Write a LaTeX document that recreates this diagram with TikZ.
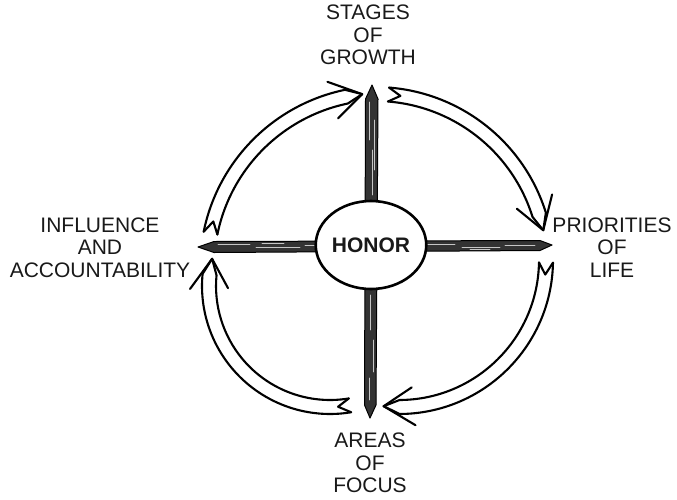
\documentclass[tikz,border=0pt]{standalone}
\usepackage{fontspec}
\setmainfont{Liberation Sans}
\usepackage{tikz}
\usetikzlibrary{shapes.geometric}
\tikzset{
  lbl/.style={align=center, inner sep=0pt, text=black!90, font=\fontsize{21}{22.5}\selectfont},
  hub/.style={ellipse, draw, line width=2.6pt, fill=white, minimum width=94pt, minimum height=88pt, inner sep=0pt, text=black!90, font=\fontsize{21}{24}\selectfont\bfseries},
  rib/.style={line width=2.1pt, line join=round, line cap=round},
  stick/.style={fill=black!80, draw=black, line width=1pt, line join=round},
  grain/.style={gray!45, line width=0.7pt, line cap=round},
}
% hollow curved arrow: centre x, centre y, radius, tail angle, head angle
\newcommand{\flowarrow}[5]{%
  \begin{scope}[shift={(#1,#2)}]
    \pgfmathsetmacro{\dcon}{16/#3*57.3}
    \pgfmathsetmacro{\dbarb}{30/#3*57.3}
    \pgfmathsetmacro{\dnotch}{12/#3*57.3}
    \draw[rib] ({#4}:{#3+7}) arc[start angle=#4, end angle=#5-\dcon, radius=#3+7] -- ({#5}:{#3});
    \draw[rib] ({#4}:{#3-7}) arc[start angle=#4, end angle=#5-\dcon, radius=#3-7] -- ({#5}:{#3});
    \draw[rib] ({#4}:{#3+7}) -- ({#4+\dnotch}:{#3}) -- ({#4}:{#3-7});
    \draw[rib] ({#5-\dbarb}:{#3+19}) -- ({#5}:{#3}) -- ({#5-\dbarb}:{#3-19});
  \end{scope}}

\begin{document}
\begin{tikzpicture}[x=1pt,y=-1pt]
  \useasboundingbox (0,0) rectangle (677,499);
  % --- stick tips ---
  \coordinate (ntip) at (372,85);
  \coordinate (stip) at (370,418);
  \coordinate (wtip) at (198,247);
  \coordinate (etip) at (552,245);
  % --- the two sticks ---
  \draw[stick] (wtip) -- (214,241.5) -- (540,240.5) -- (etip) -- (540,250.5) -- (214,252.5) -- cycle;
  \draw[stick] (ntip) -- (365.5,99) -- (364.5,405) -- (stip) -- (376,405) -- (378,99) -- cycle;
  \foreach \a/\b/\o in {218/250/-2, 256/300/1, 262/284/-3, 305/322/-1, 420/455/-2, 462/500/1, 505/535/-1, 470/490/3}
    \draw[grain] (\a,246+\o) -- (\b,246+\o);
  \foreach \a/\b/\o in {102/140/-2, 150/195/1, 120/170/3, 295/330/-1, 340/372/2, 378/400/-2}
    \draw[grain] (371+\o,\a) -- (371+\o,\b);
  % --- centre ---
  \node[hub] (honor) at (371,245) {HONOR};
  % --- labels ---
  \node[lbl] (growth) at (368,35) {STAGES\\OF\\GROWTH};
  \node[lbl] (life) at (612,247.5) {PRIORITIES\\OF\\LIFE};
  \node[lbl] (focus) at (370,463) {AREAS\\OF\\FOCUS};
  \node[lbl] (influence) at (100,247.5) {INFLUENCE\\AND\\ACCOUNTABILITY};
  % --- cycle arrows ---
  \flowarrow{382}{268}{175}{191.5}{263.5}
  \flowarrow{375}{266}{172}{274.5}{348}
  \flowarrow{399}{260}{147}{1}{96}
  \flowarrow{330}{286}{121}{80.5}{193}
\end{tikzpicture}
\end{document}
